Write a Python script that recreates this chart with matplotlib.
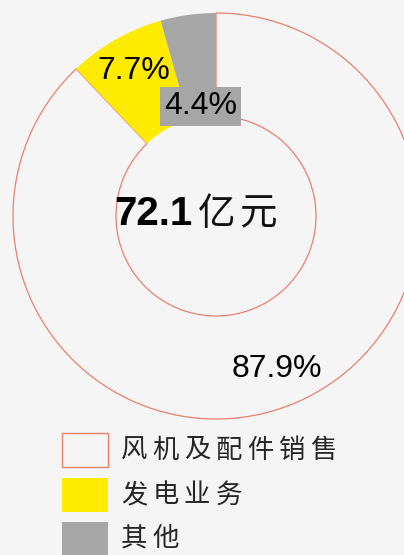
import numpy as np
import matplotlib.pyplot as plt
from matplotlib.patches import Rectangle

# --- Data ---
categories = ["风机及配件销售", "发电业务", "其他"]
shares = [87.9, 7.7, 4.4]
total_label = "72.1"
unit_label = "亿元"

# --- Style ---
fill_colors = ["none", "#FFEB00", "#A6A6A6"]
edge_colors = ["#E9806C", "none", "none"]
bg = "#F5F5F5"
cjk = ["Noto Sans CJK SC", "DejaVu Sans"]
latin = ["Liberation Sans", "DejaVu Sans"]

W, H = 404, 555
fig = plt.figure(figsize=(W / 100, H / 100), dpi=100, facecolor=bg)
ax = fig.add_axes([0, 0, 1, 1])
ax.set_facecolor(bg)

# pixel-like coordinates, y up
cx, cy = 216, H - 216
R, r = 203, 100

wedges, _ = ax.pie(shares, startangle=90, counterclock=False,
                   center=(cx, cy), radius=R,
                   wedgeprops=dict(width=R - r, linewidth=0.9))
for k, (w, fc, ec) in enumerate(zip(wedges, fill_colors, edge_colors)):
    w.set_facecolor(fc)
    w.set_edgecolor(ec)
    w.set_zorder(1 if k == 0 else 2)

ax.set_xlim(0, W)
ax.set_ylim(0, H)
ax.set_aspect("equal")
ax.axis("off")

# percentage labels at each wedge's mid angle
label_r = [0.81, 0.82, 0.545]
for k, (w, s, lr) in enumerate(zip(wedges, shares, label_r)):
    ang = np.deg2rad((w.theta1 + w.theta2) / 2)
    x = cx + R * lr * np.cos(ang)
    y = cy + R * lr * np.sin(ang)
    kw = {}
    if k == 2:
        kw["bbox"] = dict(boxstyle="square,pad=0.13", fc=fill_colors[2], ec="none")
    ax.text(x, y, f"{s}%", ha="center", va="center", fontsize=23,
            family=latin, color="black", zorder=3, **kw)

# centre total
ax.text(193, cy + 2, total_label, ha="right", va="center", fontsize=29,
        fontweight="bold", family=latin, color="black")
for i, ch in enumerate(unit_label):
    ax.text(217 + i * 41, cy + 2, ch, ha="center", va="center", fontsize=27,
            family=cjk, color="#111111")

# legend (manual, with wide character spacing)
rows_y = [450, 495, 539]
for name, fc, ec, yy in zip(categories, fill_colors, edge_colors, rows_y):
    y0 = H - yy
    ax.add_patch(Rectangle((62, y0 - 17), 46, 34,
                           facecolor=bg if fc == "none" else fc,
                           edgecolor=ec, linewidth=1.0))
    for i, ch in enumerate(name):
        ax.text(134 + i * 31.5, y0, ch, ha="center", va="center",
                fontsize=19, family=cjk, color="#262626")

fig.savefig("out.png", dpi=100, facecolor=bg)
